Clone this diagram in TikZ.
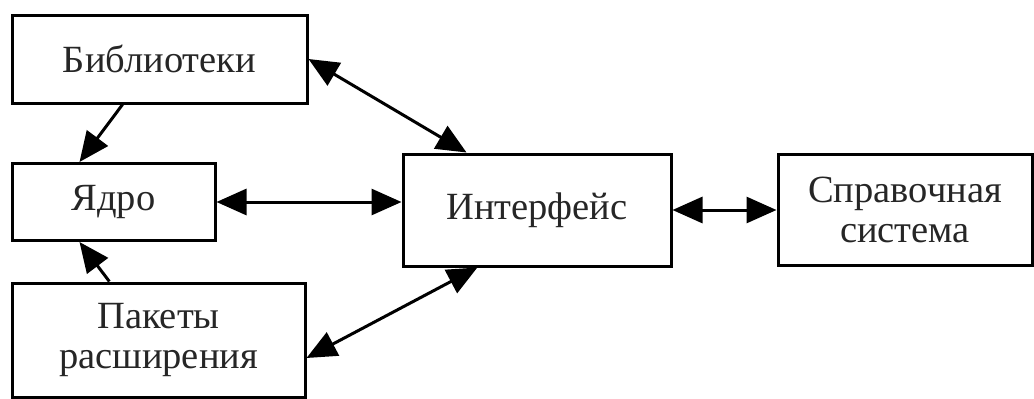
\documentclass[tikz,border=0pt]{standalone}
\usepackage{fontspec}
\setmainfont{Liberation Serif}
\usetikzlibrary{arrows.meta,calc}
\begin{document}
\begin{tikzpicture}[x=1pt,y=-1pt,
  blk/.style={draw=black,line width=3pt,fill=white,inner sep=0pt,align=center,
    font=\fontsize{38.5}{40}\selectfont,text=black!85},
  conn/.style={line width=3pt,draw=black},
  tip/.style={-{Triangle[length=30pt,width=26pt]}},
  dtip/.style={{Triangle[length=30pt,width=26pt]}-{Triangle[length=30pt,width=26pt]}}]
\useasboundingbox (0,0) rectangle (1034,399);
\fill[white] (0,0) rectangle (1034,399);
\node[blk,minimum width=295pt,minimum height=88pt] (bib) at (159.5,59) {Библиотеки};
\node[blk,minimum width=203pt,minimum height=77pt] (yadro) at (113.5,202) {Ядро};
\node[blk,minimum width=293pt,minimum height=114pt] (pak) at (158.5,340) {Пакеты\\расширения};
\node[blk,minimum width=268pt,minimum height=112pt] (iface) at (537,210) {Интерфейс};
\node[blk,minimum width=254pt,minimum height=111pt] (sprav) at (905,210) {Справочная\\система};
\draw[conn,tip] ($(bib.south west)!0.376!(bib.south east)$) -- ($(yadro.north west)!0.335!(yadro.north east)$);
\draw[conn,tip] ($(pak.north west)!0.334!(pak.north east)$) -- ($(yadro.south west)!0.335!(yadro.south east)$);
\draw[conn,dtip] (yadro.east) -- (yadro.east -| iface.west);
\draw[conn,dtip] (iface.east) -- (sprav.west);
\draw[conn,dtip] (bib.east) -- ($(iface.north west)!0.24!(iface.north east)$);
\draw[conn,dtip] ([yshift=-18pt]pak.east) -- ($(iface.south west)!0.28!(iface.south east)$);
\end{tikzpicture}
\end{document}
